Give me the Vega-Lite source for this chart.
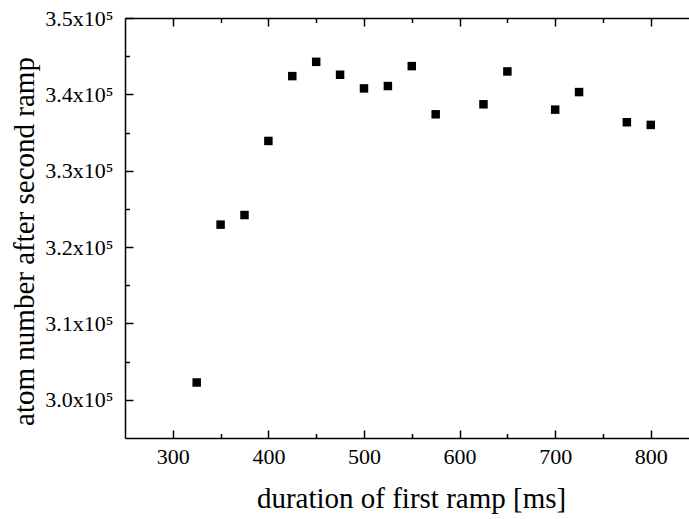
{
  "$schema": "https://vega.github.io/schema/vega-lite/v6.json",
  "autosize": {"type": "none"},
  "padding": {"left": 125, "top": 18, "right": 0, "bottom": 81},
  "width": 564,
  "height": 420,
  "background": "white",
  "view": {"stroke": null},
  "config": {
    "font": "Liberation Serif",
    "axis": {
      "labelFont": "Liberation Serif",
      "titleFont": "Liberation Serif",
      "labelColor": "black",
      "titleColor": "black",
      "tickColor": "black",
      "domainColor": "black",
      "tickWidth": 1.5,
      "domainWidth": 1.5,
      "grid": false,
      "titleFontWeight": "normal",
      "labelFontSize": 22,
      "titleFontSize": 29
    }
  },
  "data": {
    "values": [
      {"duration": 325, "atoms": 302270},
      {"duration": 350, "atoms": 322940},
      {"duration": 375, "atoms": 324200},
      {"duration": 400, "atoms": 333900},
      {"duration": 425, "atoms": 342390},
      {"duration": 450, "atoms": 344260},
      {"duration": 475, "atoms": 342570},
      {"duration": 500, "atoms": 340780},
      {"duration": 525, "atoms": 341090},
      {"duration": 550, "atoms": 343700},
      {"duration": 575, "atoms": 337390},
      {"duration": 625, "atoms": 338700},
      {"duration": 650, "atoms": 343000},
      {"duration": 700, "atoms": 338000},
      {"duration": 725, "atoms": 340300},
      {"duration": 775, "atoms": 336350},
      {"duration": 800, "atoms": 336000}
    ]
  },
  "resolve": {"axis": {"x": "independent", "y": "independent"}},
  "layer": [
    {
      "mark": {"type": "point", "shape": "square", "filled": true, "size": 72, "color": "black", "opacity": 1},
      "encoding": {
        "x": {
          "field": "duration", "type": "quantitative",
          "scale": {"domain": [250, 840], "nice": false, "zero": false},
          "axis": {
            "orient": "bottom",
            "values": [300, 400, 500, 600, 700, 800],
            "tickSize": -8,
            "labelPadding": 16,
            "labelFlush": false,
            "labelFont": "Liberation Serif",
            "labelFontSize": 22,
            "format": "d",
            "title": "duration of first ramp [ms]",
            "titleFont": "Liberation Serif",
            "titleX": 286,
            "titleY": 69,
            "titleBaseline": "alphabetic",
            "titleAnchor": null
          }
        },
        "y": {
          "field": "atoms", "type": "quantitative",
          "scale": {"domain": [295000, 350000], "nice": false, "zero": false},
          "axis": {
            "orient": "left",
            "values": [300000, 310000, 320000, 330000, 340000, 350000],
            "tickSize": -8,
            "labelPadding": 20,
            "labelFlush": false,
            "labelFont": "Liberation Serif",
            "labelFontSize": 22,
            "labelExpr": "format(datum.value / 100000, '.1f') + 'x10⁵'",
            "title": "atom number after second ramp",
            "titleFont": "Liberation Serif",
            "titleX": -92,
            "titleY": 223,
            "titleAngle": -90,
            "titleBaseline": "alphabetic",
            "titleAlign": "center"
          }
        }
      }
    },
    {
      "mark": {"type": "point", "opacity": 0},
      "encoding": {
        "x": {
          "field": "duration", "type": "quantitative",
          "axis": {
            "orient": "bottom",
            "values": [350, 450, 550, 650, 750],
            "tickSize": -4.5,
            "labels": false,
            "domain": false,
            "title": null
          }
        },
        "y": {
          "field": "atoms", "type": "quantitative",
          "axis": {
            "orient": "left",
            "values": [305000, 315000, 325000, 335000, 345000],
            "tickSize": -4.5,
            "labels": false,
            "domain": false,
            "title": null
          }
        }
      }
    },
    {
      "mark": {"type": "point", "opacity": 0},
      "encoding": {
        "x": {
          "field": "duration", "type": "quantitative",
          "axis": {
            "orient": "top",
            "values": [300, 400, 500, 600, 700, 800],
            "tickSize": -8,
            "labels": false,
            "domain": true,
            "title": null
          }
        },
        "y": {"field": "atoms", "type": "quantitative", "axis": null}
      }
    },
    {
      "mark": {"type": "point", "opacity": 0},
      "encoding": {
        "x": {
          "field": "duration", "type": "quantitative",
          "axis": {
            "orient": "top",
            "values": [350, 450, 550, 650, 750],
            "tickSize": -4.5,
            "labels": false,
            "domain": false,
            "title": null
          }
        },
        "y": {"field": "atoms", "type": "quantitative", "axis": null}
      }
    }
  ]
}
